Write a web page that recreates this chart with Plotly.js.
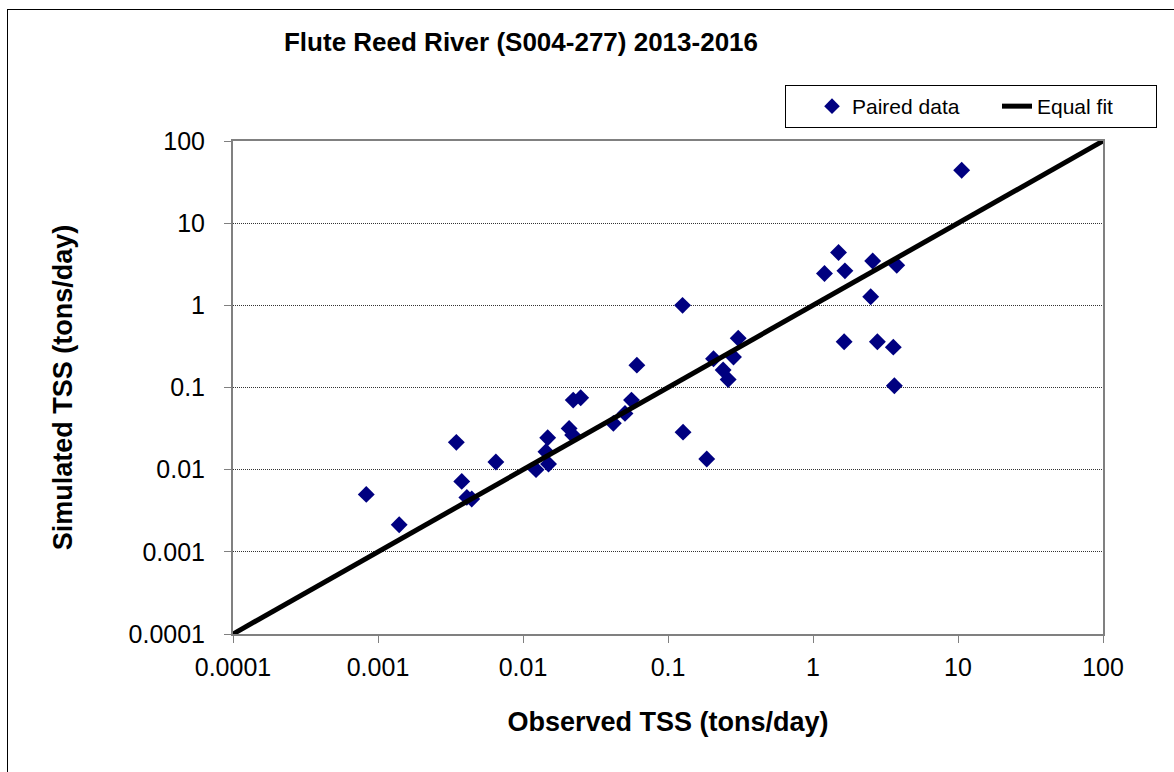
<!DOCTYPE html>
<html>
<head>
<meta charset="utf-8">
<script src="https://cdn.plot.ly/plotly-3.0.1.min.js"></script>
<style>
  html, body { margin: 0; padding: 0; background: #fff; overflow: hidden; }
  #wrap { position: relative; width: 1174px; height: 772px; }
  #chart { position: absolute; left: 0; top: 0; width: 1174px; height: 772px; }
  #frame { position: absolute; left: 7px; top: 9px; width: 1200px; height: 800px; border: 1px solid #000; pointer-events: none; }
</style>
</head>
<body>
<div id="wrap"><div id="chart"></div><div id="frame"></div></div>
<script>
// Observed TSS (tons/day)
const observed = [0.00083, 0.0014, 0.00347, 0.00378, 0.0041, 0.00443, 0.0065, 0.0123, 0.0148, 0.0144,
  0.015, 0.0208, 0.022, 0.0222, 0.025, 0.042, 0.0505, 0.056, 0.061, 0.126,
  0.127, 0.185, 0.206, 0.24, 0.26, 0.283, 0.305, 1.20, 1.50, 1.66,
  2.58, 3.78, 2.50, 1.64, 2.78, 3.58, 3.64, 10.6];
// Simulated TSS (tons/day)
const simulated = [0.0050, 0.00214, 0.0215, 0.0072, 0.0046, 0.0044, 0.0124, 0.0100, 0.0245, 0.0165,
  0.0117, 0.0318, 0.0264, 0.0703, 0.075, 0.0366, 0.0484, 0.0703, 0.187, 1.0,
  0.0286, 0.0135, 0.224, 0.163, 0.125, 0.235, 0.398, 2.44, 4.4, 2.63,
  3.47, 3.08, 1.27, 0.36, 0.36, 0.31, 0.105, 44];
// Equal fit line endpoints
const fitX = [0.0001, 100];
const fitY = [0.0001, 100];
// Tick values and labels
const tickVals = [0.0001, 0.001, 0.01, 0.1, 1, 10, 100];
const tickText = ["0.0001", "0.001", "0.01", "0.1", "1", "10", "100"];

const FONT = "Liberation Sans, Arial, sans-serif";

const traces = [
  {
    x: observed, y: simulated, type: "scatter", mode: "markers", name: "Paired data",
    marker: { symbol: "diamond", size: 13, color: "#000080", line: { width: 0 } },
    cliponaxis: false
  },
  {
    x: fitX, y: fitY, type: "scatter", mode: "lines", name: "Equal fit",
    line: { color: "#000000", width: 5 }
  }
];

const axisCommon = {
  type: "log",
  tickmode: "array",
  tickvals: tickVals,
  ticktext: tickText,
  showline: true, linecolor: "#808080", linewidth: 2, mirror: true,
  ticks: "outside", ticklen: 7, tickcolor: "#808080", tickwidth: 1,
  tickfont: { family: FONT, size: 25, color: "#000" },
  zeroline: false
};

const layout = {
  width: 1174, height: 772,
  paper_bgcolor: "rgba(0,0,0,0)", plot_bgcolor: "#ffffff",
  margin: { l: 233, r: 71, t: 141, b: 138, autoexpand: false },
  showlegend: true,
  title: {
    text: "<b>Flute Reed River (S004-277) 2013-2016</b>",
    font: { family: FONT, size: 26, color: "#000" },
    xref: "container", yref: "container",
    x: 521/1174, xanchor: "center", y: 1 - 42/772, yanchor: "middle"
  },
  xaxis: Object.assign({}, axisCommon, {
    range: [-4, 2],
    showgrid: false,
    ticklabelstandoff: 3,
    title: { text: "<b>Observed TSS (tons/day)</b>", font: { family: FONT, size: 27, color: "#000" }, standoff: 32 }
  }),
  yaxis: Object.assign({}, axisCommon, {
    range: [-4, 2],
    showgrid: true, gridcolor: "#333333", gridwidth: 1, griddash: "1px,1px",
    ticklabelstandoff: 14,
    title: { text: "<b>Simulated TSS (tons/day)</b>", font: { family: FONT, size: 27, color: "#000" }, standoff: 48 }
  }),
  legend: {
    orientation: "h",
    x: (785 - 233) / 870, xanchor: "left",
    y: (634 - 85) / 493, yanchor: "top",
    bgcolor: "#ffffff", bordercolor: "#000000", borderwidth: 1,
    font: { family: FONT, size: 21, color: "#000" },
    itemsizing: "constant",
    indentation: 26,
    entrywidth: 114
  }
};

Plotly.newPlot("chart", traces, layout, { displayModeBar: false, staticPlot: true });
</script>
</body>
</html>
